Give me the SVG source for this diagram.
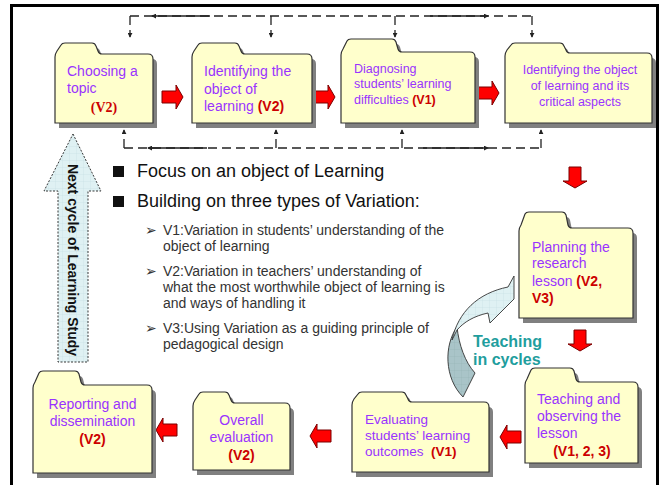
<svg xmlns="http://www.w3.org/2000/svg" xmlns:xlink="http://www.w3.org/1999/xlink" width="665" height="485" viewBox="0 0 665 485">
<style>
.fold{fill:#ffffcc;stroke:#333;stroke-width:1.2}
.shadow{fill:#808080}
.t{font-family:"Liberation Sans",Arial,sans-serif;fill:#9933ff}
.v{font-family:"Liberation Sans",Arial,sans-serif;fill:#cc0000;font-weight:bold}
.body{font-family:"Liberation Sans",Arial,sans-serif;fill:#333}
.dash{fill:none;stroke:#222;stroke-width:1.3;stroke-dasharray:9,5}
.solid{fill:none;stroke:#222;stroke-width:1.3}
.red{fill:#ff0000;stroke:#7a0000;stroke-width:1}
</style>
<defs>
<marker id="tip" viewBox="0 0 6 6" refX="5" refY="3" markerWidth="5" markerHeight="5" orient="auto" markerUnits="userSpaceOnUse"><path d="M0,0 L6,3 L0,6 Z" fill="#222"/></marker>
<path id="rarrow" d="M0,-6 H14 V-12 L21,0 L14,12 V6 H0 Z"/>
<pattern id="grid" width="7" height="7" patternUnits="userSpaceOnUse"><rect width="7" height="7" fill="#dff1f3"/><path d="M7,0 V7 M0,7 H7" stroke="#c2dde2" stroke-width="0.6"/></pattern>
<pattern id="gridd" width="7" height="7" patternUnits="userSpaceOnUse"><rect width="7" height="7" fill="#a9c4c8"/><path d="M7,0 V7 M0,7 H7" stroke="#93b0b5" stroke-width="0.6"/></pattern>
</defs>
<rect x="0" y="0" width="665" height="485" fill="#fff"/>
<rect x="11.5" y="5.5" width="646" height="490" fill="none" stroke="#000" stroke-width="3"/>

<g id="connectors">
<path class="dash" d="M130,16 H532"/>
<path class="dash" d="M130,16 V37" marker-end="url(#tip)"/>
<path class="dash" d="M271,16 V37" marker-end="url(#tip)"/>
<path class="dash" d="M395,16 V37" marker-end="url(#tip)"/>
<path class="dash" d="M532,16 V37" marker-end="url(#tip)"/>
<path class="solid" d="M210,16 H152" marker-end="url(#tip)"/>
<path class="solid" d="M430,16 H488" marker-end="url(#tip)"/>
<path class="dash" d="M124,148 H541"/>
<path class="dash" d="M124,148 V130" marker-end="url(#tip)"/>
<path class="dash" d="M276,148 V130" marker-end="url(#tip)"/>
<path class="dash" d="M402,148 V130" marker-end="url(#tip)"/>
<path class="dash" d="M541,148 V130" marker-end="url(#tip)"/>
<path class="solid" d="M207,148 H148" marker-end="url(#tip)"/>
<path class="solid" d="M423,148 H488" marker-end="url(#tip)"/>
<use xlink:href="#rarrow" class="red" transform="translate(162,97)"/>
<use xlink:href="#rarrow" class="red" transform="translate(314,97)"/>
<use xlink:href="#rarrow" class="red" transform="translate(478,93)"/>
<use xlink:href="#rarrow" class="red" transform="translate(575,167) rotate(90)"/>
<use xlink:href="#rarrow" class="red" transform="translate(580,330) rotate(90)"/>
<use xlink:href="#rarrow" class="red" transform="translate(521,437) scale(-1,1)"/>
<use xlink:href="#rarrow" class="red" transform="translate(331,436) scale(-1,1)"/>
<use xlink:href="#rarrow" class="red" transform="translate(177,430) scale(-1,1)"/>
</g>

<g id="node-choosing">
<path class="shadow" transform="translate(4,5)" d="M55,123 V57 Q55,54 57,51 L61,45 Q62,43 65,43 H92 Q95,43 96,46 L98,51 Q99,54 102,54 H148 Q153,54 153,59 V123 Z"/>
<path class="fold" d="M55,123 V57 Q55,54 57,51 L61,45 Q62,43 65,43 H92 Q95,43 96,46 L98,51 Q99,54 102,54 H148 Q153,54 153,59 V123 Z"/>
<text class="t" font-size="14" x="67" y="76">Choosing a</text>
<text class="t" font-size="14" x="67" y="93">topic</text>
<text font-family="'Liberation Serif',serif" font-weight="bold" font-size="14" fill="#cc0000" x="104" y="112" text-anchor="middle">(V2)</text>
</g>

<g id="node-identifying">
<path class="shadow" transform="translate(4,5)" d="M192,123 V57 Q192,54 194,51 L198,45 Q199,43 202,43 H235 Q238,43 239,46 L241,51 Q242,54 245,54 H307 Q312,54 312,59 V123 Z"/>
<path class="fold" d="M192,123 V57 Q192,54 194,51 L198,45 Q199,43 202,43 H235 Q238,43 239,46 L241,51 Q242,54 245,54 H307 Q312,54 312,59 V123 Z"/>
<text class="t" font-size="14" x="204" y="76">Identifying the</text>
<text class="t" font-size="14" x="204" y="94">object of</text>
<text class="t" font-size="14" x="204" y="111">learning <tspan fill="#cc0000" font-weight="bold">(V2)</tspan></text>
</g>

<g id="node-diagnosing">
<path class="shadow" transform="translate(4,5)" d="M341,123 V55 Q341,52 343,49 L347,41 Q348,39 351,39 H392 Q395,39 396,42 L398,49 Q399,52 402,52 H470 Q475,52 475,57 V123 Z"/>
<path class="fold" d="M341,123 V55 Q341,52 343,49 L347,41 Q348,39 351,39 H392 Q395,39 396,42 L398,49 Q399,52 402,52 H470 Q475,52 475,57 V123 Z"/>
<text class="t" font-size="12.5" x="354" y="73">Diagnosing</text>
<text class="t" font-size="12.5" x="354" y="88">students’ learning</text>
<text class="t" font-size="12.5" x="354" y="104">difficulties <tspan fill="#cc0000" font-weight="bold">(V1)</tspan></text>
</g>

<g id="node-critical">
<path class="shadow" transform="translate(4,5)" d="M505,123 V56 Q505,53 507,50 L511,45 Q512,43 515,43 H560 Q563,43 564,46 L566,50 Q567,53 570,53 H647 Q652,53 652,58 V123 Z"/>
<path class="fold" d="M505,123 V56 Q505,53 507,50 L511,45 Q512,43 515,43 H560 Q563,43 564,46 L566,50 Q567,53 570,53 H647 Q652,53 652,58 V123 Z"/>
<text class="t" font-size="12.5" x="580" y="74" text-anchor="middle">Identifying the object</text>
<text class="t" font-size="12.5" x="580" y="90" text-anchor="middle">of learning and its</text>
<text class="t" font-size="12.5" x="580" y="106" text-anchor="middle">critical aspects</text>
</g>

<g id="node-planning">
<path class="shadow" transform="translate(4,5)" d="M519,318 V231 Q519,228 521,225 L525,214 Q526,212 529,212 H562 Q565,212 566,215 L568,225 Q569,228 572,228 H628 Q633,228 633,233 V318 Z"/>
<path class="fold" d="M519,318 V231 Q519,228 521,225 L525,214 Q526,212 529,212 H562 Q565,212 566,215 L568,225 Q569,228 572,228 H628 Q633,228 633,233 V318 Z"/>
<text class="t" font-size="14" x="532" y="252">Planning the</text>
<text class="t" font-size="14" x="532" y="268">research</text>
<text class="t" font-size="14" x="532" y="286">lesson <tspan fill="#cc0000" font-weight="bold">(V2,</tspan></text>
<text class="v" font-size="14" x="532" y="303">V3)</text>
</g>

<g id="node-teaching">
<path class="shadow" transform="translate(4,5)" d="M525,463 V385 Q525,382 527,379 L531,370 Q532,368 535,368 H570 Q573,368 574,371 L576,379 Q577,382 580,382 H633 Q638,382 638,387 V463 Z"/>
<path class="fold" d="M525,463 V385 Q525,382 527,379 L531,370 Q532,368 535,368 H570 Q573,368 574,371 L576,379 Q577,382 580,382 H633 Q638,382 638,387 V463 Z"/>
<text class="t" font-size="14" x="537" y="404">Teaching and</text>
<text class="t" font-size="14" x="537" y="421">observing the</text>
<text class="t" font-size="14" x="537" y="438">lesson</text>
<text class="v" font-size="14" x="582" y="456" text-anchor="middle">(V1, 2, 3)</text>
</g>

<g id="node-evaluating">
<path class="shadow" transform="translate(4,5)" d="M352,472 V405 Q352,402 354,399 L358,394 Q359,392 362,392 H402 Q405,392 406,395 L408,399 Q409,402 412,402 H484 Q489,402 489,407 V472 Z"/>
<path class="fold" d="M352,472 V405 Q352,402 354,399 L358,394 Q359,392 362,392 H402 Q405,392 406,395 L408,399 Q409,402 412,402 H484 Q489,402 489,407 V472 Z"/>
<text class="t" font-size="13.5" x="365" y="424">Evaluating</text>
<text class="t" font-size="13.5" x="365" y="440">students’ learning</text>
<text class="t" font-size="13.5" x="365" y="456">outcomes</text>
<text class="v" font-size="13.5" x="431" y="456">(V1)</text>
</g>

<g id="node-overall">
<path class="shadow" transform="translate(4,5)" d="M193,470 V406 Q193,403 195,400 L199,394 Q200,392 203,392 H225 Q228,392 229,395 L231,400 Q232,403 235,403 H285 Q290,403 290,408 V470 Z"/>
<path class="fold" d="M193,470 V406 Q193,403 195,400 L199,394 Q200,392 203,392 H225 Q228,392 229,395 L231,400 Q232,403 235,403 H285 Q290,403 290,408 V470 Z"/>
<text class="t" font-size="14" x="241.5" y="425" text-anchor="middle">Overall</text>
<text class="t" font-size="14" x="241.5" y="442" text-anchor="middle">evaluation</text>
<text class="v" font-size="14" x="241.5" y="460" text-anchor="middle">(V2)</text>
</g>

<g id="node-reporting">
<path class="shadow" transform="translate(4,5)" d="M33,473 V388 Q33,385 35,382 L39,373 Q40,371 43,371 H75 Q78,371 79,374 L81,382 Q82,385 85,385 H147 Q152,385 152,390 V473 Z"/>
<path class="fold" d="M33,473 V388 Q33,385 35,382 L39,373 Q40,371 43,371 H75 Q78,371 79,374 L81,382 Q82,385 85,385 H147 Q152,385 152,390 V473 Z"/>
<text class="t" font-size="14" x="92.5" y="409" text-anchor="middle">Reporting and</text>
<text class="t" font-size="14" x="92.5" y="426" text-anchor="middle">dissemination</text>
<text class="v" font-size="14" x="92.5" y="444" text-anchor="middle">(V2)</text>
</g>

<g id="next-cycle">
<path d="M73,134 L101,191 H88 V362 H58 V191 H44 Z" fill="url(#grid)" stroke="#222" stroke-width="0.9" stroke-dasharray="2,1.5"/>
<text font-family="'Liberation Sans',Arial,sans-serif" font-weight="bold" font-size="14" fill="#111" x="260" y="-68" text-anchor="middle" transform="rotate(90)">Next cycle of Learning Study</text>
</g>

<g id="cycle-arrow">
<path d="M457,327 C444,345 444,378 463,397 L475,373 C465,362 459,345 457,327 Z" fill="url(#gridd)" stroke="#333" stroke-width="0.9"/>
<path d="M452,340 C458,312 478,293 508,287 L514,276 L514,299 L490,323 L488,313 C474,316 464,322 457,330 Z" fill="url(#grid)" stroke="#333" stroke-width="0.9"/>
<text font-family="'Liberation Sans',Arial,sans-serif" font-weight="bold" font-size="16" fill="#1f9e9e" x="473" y="347">Teaching</text>
<text font-family="'Liberation Sans',Arial,sans-serif" font-weight="bold" font-size="16" fill="#1f9e9e" x="473" y="365">in cycles</text>
</g>

<g id="bullets">
<rect x="113" y="166" width="11" height="11" fill="#111"/>
<rect x="113" y="196" width="11" height="11" fill="#111"/>
<text font-family="'Liberation Sans',Arial,sans-serif" font-size="18" fill="#111" x="137" y="177">Focus on an object of Learning</text>
<text font-family="'Liberation Sans',Arial,sans-serif" font-size="18" fill="#111" x="137" y="207">Building on three types of Variation:</text>
<g font-family="'DejaVu Sans',sans-serif" font-size="14" fill="#333">
<text x="145" y="235">➢</text>
<text x="145" y="276">➢</text>
<text x="145" y="333">➢</text>
</g>
<text class="body" font-size="14" x="163" y="235">V1:Variation in students’ understanding of the</text>
<text class="body" font-size="14" x="163" y="251">object of learning</text>
<text class="body" font-size="14" x="163" y="276">V2:Variation in teachers’ understanding of</text>
<text class="body" font-size="14" x="163" y="292">what the most worthwhile object of learning is</text>
<text class="body" font-size="14" x="163" y="308">and ways of handling it</text>
<text class="body" font-size="14" x="163" y="333">V3:Using Variation as a guiding principle of</text>
<text class="body" font-size="14" x="163" y="349">pedagogical design</text>
</g>
</svg>
